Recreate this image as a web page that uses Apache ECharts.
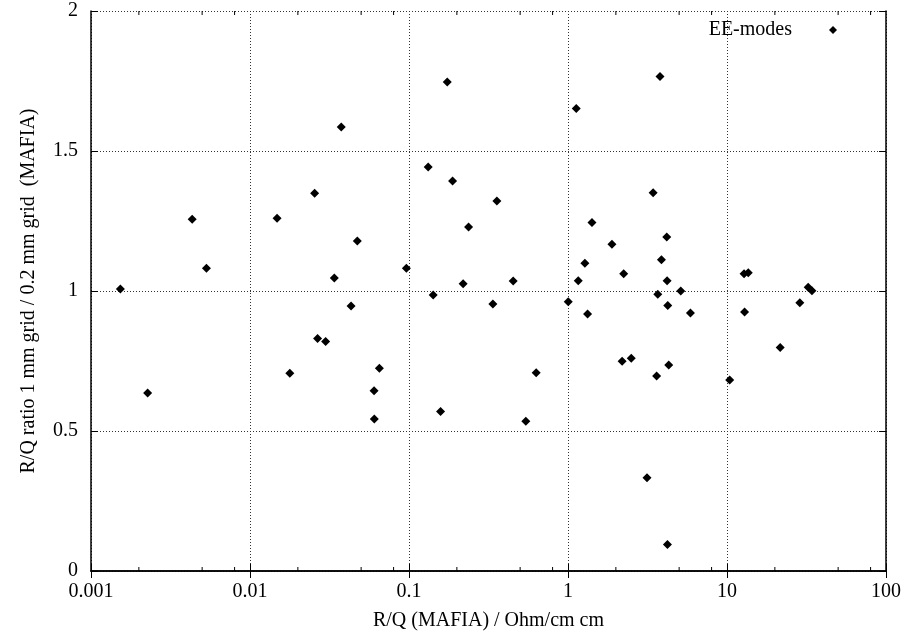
<!DOCTYPE html>
<html>
<head>
<meta charset="utf-8">
<script src="https://cdn.jsdelivr.net/npm/echarts@6/dist/echarts.min.js"></script>
<style>
html,body{margin:0;padding:0;background:#fff;}
#chart{width:904px;height:639px;}
</style>
</head>
<body>
<div id="chart"></div>
<script>
// R/Q (MAFIA) values in Ohm/cm cm
const rq = [
  0.00153, 0.00227, 0.00433, 0.00532, 0.0148, 0.0178, 0.0255, 0.0266, 0.0299, 0.0339,
  0.0375, 0.0432, 0.0473, 0.0603, 0.0605, 0.0651, 0.0963, 0.132, 0.142, 0.158,
  0.174, 0.188, 0.219, 0.237, 0.337, 0.357, 0.452, 0.543, 0.631, 1.004,
  1.127, 1.16, 1.277, 1.328, 1.415, 1.89, 2.19, 2.24, 2.50, 3.14,
  3.43, 3.61, 3.67, 3.79, 3.87, 4.18, 4.20, 4.22, 4.24, 4.30,
  5.12, 5.89, 10.4, 12.8, 13.6, 12.9, 21.6, 28.7, 32.4, 34.2
];
// ratio 1 mm grid / 0.2 mm grid
const ratio = [
  1.007, 0.636, 1.256, 1.081, 1.260, 0.706, 1.349, 0.830, 0.820, 1.046,
  1.586, 0.946, 1.179, 0.644, 0.543, 0.724, 1.081, 1.443, 0.986, 0.570,
  1.746, 1.393, 1.026, 1.229, 0.954, 1.321, 1.036, 0.535, 0.708, 0.962,
  1.652, 1.037, 1.099, 0.918, 1.245, 1.167, 0.749, 1.062, 0.760, 0.333,
  1.351, 0.696, 0.988, 1.766, 1.112, 1.193, 1.037, 0.095, 0.948, 0.736,
  1.000, 0.921, 0.682, 1.062, 1.065, 0.925, 0.798, 0.958, 1.013, 1.001
];
const xTickLabels = ['0.001', '0.01', '0.1', '1', '10', '100'];
const yTickLabels = ['0', '0.5', '1', '1.5', '2'];
const xMinorTicks = [
  0.002, 0.005, 0.008, 0.02, 0.05, 0.08, 0.2, 0.5, 0.8, 2, 5, 8, 20, 50, 80
];
const seriesName = 'EE-modes';

const FONT = '"Liberation Serif", "Times New Roman", serif';
const points = rq.map((v, i) => [v, ratio[i]]);

const chart = echarts.init(document.getElementById('chart'), null, {renderer: 'canvas'});
const dotted = {type: [1, 2], color: '#333', width: 1};

const option = {
  backgroundColor: '#fff',
  animation: false,
  grid: {left: 91, right: 18, top: 11, bottom: 68, outerBoundsMode: 'none', containLabel: false},
  legend: {
    data: [{name: seriesName, icon: 'diamond'}],
    right: 62,
    top: 15,
    align: 'right',
    itemWidth: 8,
    itemHeight: 8,
    itemStyle: {color: '#000', opacity: 1},
    textStyle: {fontFamily: FONT, fontSize: 20, color: '#000', padding: [0, 32, 0, 0]},
    selectedMode: false
  },
  xAxis: [
    {
      type: 'log', logBase: 10, min: 0.001, max: 100, splitNumber: 5,
      position: 'bottom',
      name: 'R/Q (MAFIA) / Ohm/cm cm', nameLocation: 'middle', nameGap: 40,
      nameTextStyle: {fontFamily: FONT, fontSize: 20, color: '#000'},
      axisLine: {show: true, lineStyle: {color: '#000', width: 1.5}},
      axisTick: {show: true, inside: true, length: 7, lineStyle: {color: '#000', width: 1}},
      minorTick: {show: false},
      axisLabel: {
        fontFamily: FONT, fontSize: 20, color: '#000', margin: 11,
        formatter: v => xTickLabels[Math.round(Math.log10(v)) + 3] || ''
      },
      splitLine: {show: true, lineStyle: dotted}
    },
    {
      type: 'log', logBase: 10, min: 0.001, max: 100, splitNumber: 5,
      position: 'top',
      axisLine: {show: true, lineStyle: {color: '#000', width: 1.5}},
      axisTick: {show: true, inside: true, length: 7, lineStyle: {color: '#000', width: 1}},
      axisLabel: {show: false},
      splitLine: {show: false}
    }
  ],
  yAxis: [
    {
      type: 'value', min: 0, max: 2, interval: 0.5,
      position: 'left',
      name: 'R/Q ratio 1 mm grid / 0.2 mm grid  (MAFIA)', nameLocation: 'middle', nameGap: 52,
      nameTextStyle: {fontFamily: FONT, fontSize: 20, color: '#000'},
      axisLine: {show: true, lineStyle: {color: '#000', width: 1.5}},
      axisTick: {show: true, inside: true, length: 7, lineStyle: {color: '#000', width: 1}},
      axisLabel: {
        fontFamily: FONT, fontSize: 20, color: '#000', margin: 13,
        formatter: v => yTickLabels[Math.round(v / 0.5)] || ''
      },
      splitLine: {show: true, lineStyle: dotted}
    },
    {
      type: 'value', min: 0, max: 2, interval: 0.5,
      position: 'right',
      axisLine: {show: true, lineStyle: {color: '#000', width: 1.5}},
      axisTick: {show: true, inside: true, length: 7, lineStyle: {color: '#000', width: 1}},
      axisLabel: {show: false},
      splitLine: {show: false}
    }
  ],
  series: [
    {
      name: seriesName,
      type: 'scatter',
      xAxisIndex: 0, yAxisIndex: 0,
      symbol: 'diamond',
      symbolSize: 9,
      itemStyle: {color: '#000', opacity: 1},
      data: points,
      z: 5
    },
    {
      name: 'minorTicks',
      type: 'custom',
      xAxisIndex: 0, yAxisIndex: 0,
      silent: true,
      encode: {x: 0, y: 1},
      data: xMinorTicks.map(v => [v, 1]),
      renderItem: function (params, api) {
        const x = api.coord([api.value(0), 1])[0];
        const cs = params.coordSys;
        const yb = cs.y + cs.height;
        const yt = cs.y;
        return {
          type: 'group',
          children: [
            {type: 'line', shape: {x1: x, y1: yb, x2: x, y2: yb - 4}, style: {stroke: '#000', lineWidth: 1}},
            {type: 'line', shape: {x1: x, y1: yt, x2: x, y2: yt + 4}, style: {stroke: '#000', lineWidth: 1}}
          ]
        };
      },
      z: 4
    }
  ]
};
chart.setOption(option);
</script>
</body>
</html>
